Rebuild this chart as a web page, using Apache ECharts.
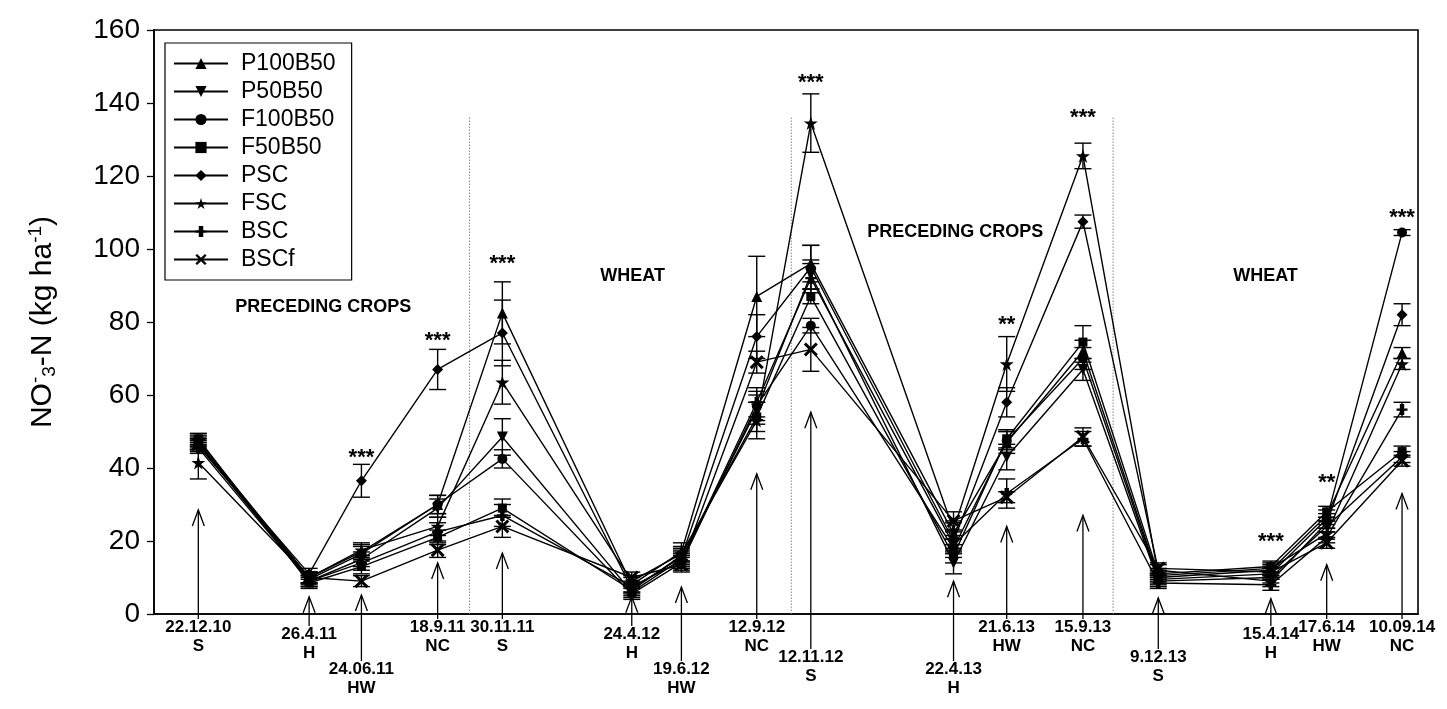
<!DOCTYPE html>
<html><head><meta charset="utf-8">
<script src="https://cdn.jsdelivr.net/npm/echarts@6/dist/echarts.min.js"></script>
<style>html,body{margin:0;padding:0;background:#fff}#c{width:1447px;height:709px}</style>
</head><body><div id="c"></div>
<script>
// ---------- data ----------
const dates = ['2010-12-22','2011-04-26','2011-06-24','2011-09-18','2011-11-30','2012-04-24','2012-06-19','2012-09-12','2012-11-12','2013-04-22','2013-06-21','2013-09-15','2013-12-09','2014-04-15','2014-06-17','2014-09-10'];
const dateLabels = ['22.12.10','26.4.11','24.06.11','18.9.11','30.11.11','24.4.12','19.6.12','12.9.12','12.11.12','22.4.13','21.6.13','15.9.13','9.12.13','15.4.14','17.6.14','10.09.14'];
const stageLabels = ['S','H','HW','NC','S','H','HW','NC','S','H','HW','NC','S','H','HW','NC'];
const seriesNames = ['P100B50','P50B50','F100B50','F50B50','PSC','FSC','BSC','BSCf'];

const P100B50 = [47.5, 10, 17, 30, 82.5, 8, 17, 87, 96, 22, 47, 72, 10, 12, 27, 71.5];
const P50B50  = [46.5, 9, 15, 29, 48.5, 6, 15, 56, 93, 14, 43, 67, 9, 10, 24, 43];
const F100B50 = [47, 9.5, 16.5, 30, 42.5, 5.5, 14, 57, 79, 18, 47.5, 70, 9.5, 11, 26, 104.5];
const F50B50  = [48, 8.5, 13, 21, 29, 6.5, 16, 54, 87, 16, 48, 74.5, 11, 13, 28, 44.5];
const PSC     = [46, 11, 36.5, 67, 77, 7, 15.5, 76, 95, 20, 58, 107.5, 12, 9, 25, 82];
const FSC     = [41.5, 10, 17.5, 24, 63.5, 9, 16.5, 53, 134.5, 23, 68.5, 125.5, 10.5, 12.5, 22, 68.5];
const BSC     = [45.5, 9, 14, 22.5, 27, 7.5, 14.5, 58, 92, 19, 33, 48, 8.5, 8, 21, 56];
const BSCf    = [46.5, 10, 9, 17.5, 24, 10, 13.5, 69, 72.5, 25.5, 32, 48.5, 12.5, 11.5, 19.5, 42];

const P100B50_se = [1.5, 1.5, 2, 2.5, 8.5, 2, 2.5, 11, 5, 3, 3, 3, 1.5, 1.5, 1.5, 1.5];
const P50B50_se  = [1.5, 1.5, 2, 2.5, 5, 1.5, 2, 4, 4, 3, 3.5, 3, 1.5, 1.5, 1.5, 1.5];
const F100B50_se = [1.5, 1.5, 2, 2.5, 2.5, 1.5, 2, 4, 2, 2.5, 2.5, 3, 1.5, 1.5, 1.5, 0.8];
const F50B50_se  = [1.5, 1.5, 2, 2, 2.5, 1.5, 2, 4, 2, 2, 2.5, 4.5, 1.5, 1.5, 1.5, 1.5];
const PSC_se     = [1.5, 1.5, 4.5, 5.5, 9, 1.5, 2, 6, 6, 2.5, 4, 1.8, 1.5, 1.5, 1.5, 3];
const FSC_se     = [4.5, 1.5, 2, 2.5, 6, 1.5, 2, 5, 8, 2.5, 7.5, 3.5, 1.5, 1.5, 1.5, 1.5];
const BSC_se     = [1.5, 1.5, 2, 2.5, 3, 1.5, 2, 4, 4, 2.5, 4, 2, 1.5, 1.5, 1.5, 2];
const BSCf_se    = [1.5, 1.5, 1.5, 2, 3, 1.5, 2, 3, 6, 2.5, 1.5, 2.5, 1.5, 1.5, 1.5, 1.5];

const arrowTips = [28.5, 4.7, 5.2, 14, 16.7, 4.7, 7.4, 38.4, 55.3, 9, 24, 27, 4.4, 4.2, 13.5, 33];

const periodBounds = ['2011-10-24','2012-10-21','2013-10-19'];
const periodBoundTop = 136;
const periodNames = ['PRECEDING CROPS','WHEAT','PRECEDING CROPS','WHEAT'];
const periodNameDates = ['2011-05-12','2012-04-25','2013-04-24','2014-04-09'];
const periodNameLevels = [84.1, 92.7, 104.7, 92.7];

const sigDates = ['2011-06-24','2011-09-18','2011-11-30','2012-11-12','2013-06-21','2013-09-15','2014-04-15','2014-06-17','2014-09-10'];
const sigMarks = ['***','***','***','***','**','***','***','**','***'];
const sigLevels = [44.1, 76.2, 97.2, 146.8, 80.5, 137.3, 21.1, 37.3, 110];

const yMin = 0, yMax = 160, yStep = 20;
const xMin = '2010-11-02', xMax = '2014-09-28';

// ---------- layout / style ----------
const values = [P100B50, P50B50, F100B50, F50B50, PSC, FSC, BSC, BSCf];
const errors = [P100B50_se, P50B50_se, F100B50_se, F50B50_se, PSC_se, FSC_se, BSC_se, BSCf_se];
const symbols = ['triangle', 'path://M0,0L10,0L5,9Z', 'circle', 'rect', 'diamond',
  'path://M50,0L61,35L98,35L68,57L79,91L50,70L21,91L32,57L2,35L39,35Z',
  'path://M3,0H7V4H10V6H7V10H3V6H0V4H3Z',
  'path://M0,3L3,0L10,7L17,0L20,3L13,10L20,17L17,20L10,13L3,20L0,17L7,10Z'];
const symbolSizes = [11, 11, 10, 9, 11, 14, 11, 14];
const labelRow = [0,1,3,0,0,1,3,0,2,3,0,0,2,1,0,0];
const rowDrop = [13, 20, 43, 55];
const FONT = '"Liberation Sans", Arial, sans-serif';

const chart = echarts.init(document.getElementById('c'));
const series = [];

// dotted period boundaries
series.push({
  type:'custom', coordinateSystem:'cartesian2d', silent:true, clip:false, z:1,
  data: periodBounds.map(d => [d, periodBoundTop]),
  renderItem(p, api){
    const a = api.coord([api.value(0), 0]);
    const b = api.coord([api.value(0), api.value(1)]);
    return {type:'line', shape:{x1:a[0], y1:a[1], x2:b[0], y2:b[1]},
      style:{stroke:'#888', lineWidth:1, lineDash:[1.5, 1.5]}};
  }
});

// arrows + date labels
series.push({
  type:'custom', coordinateSystem:'cartesian2d', silent:true, clip:false, z:3,
  data: dates.map((d, i) => [d, arrowTips[i], i]),
  renderItem(p, api){
    const i = api.value(2);
    const tip = api.coord([api.value(0), api.value(1)]);
    const base = api.coord([api.value(0), 0]);
    const drop = rowDrop[labelRow[i]];
    const x = tip[0];
    return {type:'group', children:[
      {type:'line', shape:{x1:x, y1:tip[1], x2:x, y2:base[1] + drop - 8}, style:{stroke:'#000', lineWidth:1.3}},
      {type:'polyline', shape:{points:[[x-6, tip[1]+16],[x, tip[1]],[x+6, tip[1]+16]]}, style:{stroke:'#000', lineWidth:1.3, fill:null}},
      {type:'text', x:x, y:base[1] + drop, style:{text:dateLabels[i], fill:'#000', fontSize:17, fontWeight:'bold', fontFamily:FONT, align:'center', verticalAlign:'middle'}},
      {type:'text', x:x, y:base[1] + drop + 19, style:{text:stageLabels[i], fill:'#000', fontSize:17, fontWeight:'bold', fontFamily:FONT, align:'center', verticalAlign:'middle'}}
    ]};
  }
});

// error bars
seriesNames.forEach((name, k) => {
  series.push({
    type:'custom', coordinateSystem:'cartesian2d', silent:true, clip:false, z:2,
    data: dates.map((d, i) => [d, values[k][i] - errors[k][i], values[k][i] + errors[k][i]]),
    renderItem(p, api){
      const lo = api.coord([api.value(0), api.value(1)]);
      const hi = api.coord([api.value(0), api.value(2)]);
      const w = 8.5, st = {stroke:'#000', lineWidth:1.4};
      return {type:'group', children:[
        {type:'line', shape:{x1:lo[0], y1:lo[1], x2:hi[0], y2:hi[1]}, style:st},
        {type:'line', shape:{x1:lo[0]-w, y1:lo[1], x2:lo[0]+w, y2:lo[1]}, style:st},
        {type:'line', shape:{x1:hi[0]-w, y1:hi[1], x2:hi[0]+w, y2:hi[1]}, style:st}
      ]};
    }
  });
});

// lines
seriesNames.forEach((name, k) => {
  series.push({
    name, type:'line', z:4,
    data: dates.map((d, i) => [d, values[k][i]]),
    symbol: symbols[k], symbolSize: symbolSizes[k], showSymbol:true,
    lineStyle:{color:'#000', width:1.4},
    itemStyle:{color:'#000', borderWidth:0},
    emphasis:{disabled:true}
  });
});

// significance marks
series.push({
  type:'custom', coordinateSystem:'cartesian2d', silent:true, clip:false, z:5,
  data: sigDates.map((d, i) => [d, sigLevels[i], i]),
  renderItem(p, api){
    const c = api.coord([api.value(0), api.value(1)]);
    return {type:'text', x:c[0], y:c[1] + 5, style:{text:sigMarks[api.value(2)], fill:'#000', fontSize:22, fontWeight:'bold', fontFamily:FONT, align:'center', verticalAlign:'middle'}};
  }
});

// period names
series.push({
  type:'custom', coordinateSystem:'cartesian2d', silent:true, clip:false, z:5,
  data: periodNameDates.map((d, i) => [d, periodNameLevels[i], i]),
  renderItem(p, api){
    const c = api.coord([api.value(0), api.value(1)]);
    return {type:'text', x:c[0], y:c[1], style:{text:periodNames[api.value(2)], fill:'#000', fontSize:18, fontWeight:'bold', fontFamily:FONT, align:'center', verticalAlign:'middle'}};
  }
});

chart.setOption({
  animation:false,
  backgroundColor:'#fff',
  grid:{left:154, right:29, top:30, bottom:95, show:true, borderColor:'#000', borderWidth:1.6, backgroundColor:'transparent'},
  xAxis:{type:'time', min:xMin, max:xMax, axisLine:{show:true, lineStyle:{color:'#000', width:1.6}}, axisTick:{show:false}, axisLabel:{show:false}, splitLine:{show:false}},
  yAxis:{type:'value', min:yMin, max:yMax, interval:yStep,
    axisLine:{show:true, lineStyle:{color:'#000', width:1.6}},
    axisTick:{show:true, inside:false, length:7, lineStyle:{color:'#000', width:1.3}},
    axisLabel:{fontSize:28, color:'#000', fontFamily:FONT, margin:14},
    splitLine:{show:false}},
  legend:{data:seriesNames, orient:'vertical', left:165, top:43,
    itemWidth:54, itemHeight:14, itemGap:5, padding:[9,16,9,8],
    borderColor:'#000', borderWidth:1.2, backgroundColor:'#fff',
    selectedMode:false,
    textStyle:{fontSize:23, color:'#000', fontFamily:FONT, lineHeight:23, padding:[0,0,0,8]}},
  graphic:[{type:'text', x:43, y:322, rotation:Math.PI/2, silent:true,
    style:{text:'{m|NO}{sup|-}{sub|3}{m|-N (kg ha}{sup|-1}{m|)}', align:'center', verticalAlign:'middle', fill:'#000',
      rich:{m:{fontSize:30, fontFamily:FONT, fill:'#000'},
            sup:{fontSize:19, fontFamily:FONT, fill:'#000', padding:[0,0,14,0]},
            sub:{fontSize:19, fontFamily:FONT, fill:'#000', padding:[14,0,0,0]}}}}],
  series
});
</script></body></html>
